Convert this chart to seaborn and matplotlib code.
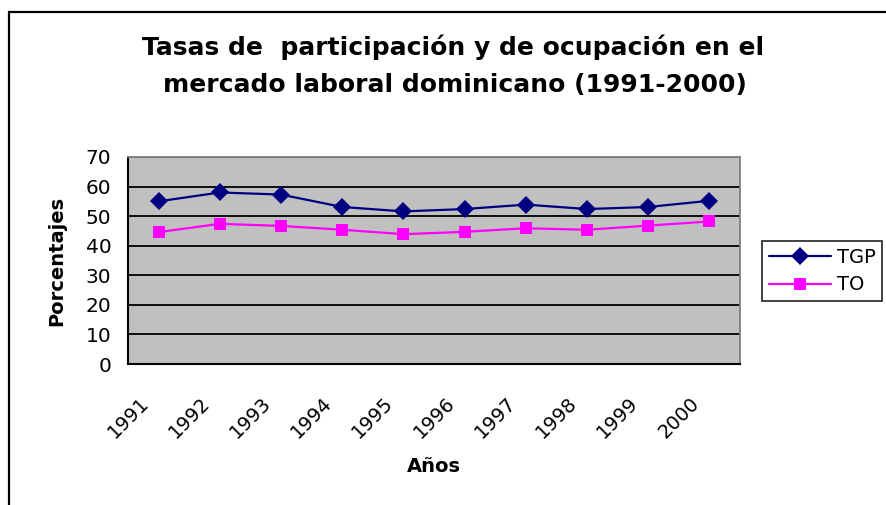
import numpy as np
import pandas as pd
import matplotlib
matplotlib.use('Agg')
import matplotlib.pyplot as plt
import matplotlib.patches as patches
import seaborn as sns

# Values
years = ['1991', '1992', '1993', '1994', '1995', '1996', '1997', '1998', '1999', '2000']
tgp = [55.0, 58.0, 57.3, 53.1, 51.6, 52.4, 53.9, 52.4, 53.1, 55.2]
to = [44.6, 47.4, 46.7, 45.4, 43.9, 44.7, 45.9, 45.4, 46.8, 48.2]

df = pd.DataFrame({
    'pos': list(range(len(years))) * 2,
    'valor': tgp + to,
    'serie': ['TGP'] * len(years) + ['TO'] * len(years),
})

sns.set_style('white')
plt.rcParams['font.family'] = ['DejaVu Sans']
plt.rcParams['text.color'] = 'black'
plt.rcParams['axes.labelcolor'] = 'black'
plt.rcParams['xtick.color'] = 'black'
plt.rcParams['ytick.color'] = 'black'

fig = plt.figure(figsize=(8.86, 5.05), dpi=100)
ax = fig.add_axes([128 / 886, 1 - 364 / 505, (740 - 128) / 886, (364 - 157) / 505])
ax.set_facecolor('#C0C0C0')

sns.lineplot(data=df, x='pos', y='valor', hue='serie', style='serie',
             palette={'TGP': '#000080', 'TO': '#FF00FF'},
             markers={'TGP': 'D', 'TO': 's'}, dashes=False,
             markersize=9, markeredgewidth=0, linewidth=1.6, ax=ax, legend=True)

ax.set_xlim(-0.5, 9.5)
ax.set_ylim(0, 70)
ax.set_yticks(range(0, 71, 10))
ax.yaxis.grid(True, color='black', linewidth=1.3)
ax.set_axisbelow(True)

ax.set_xticks(np.arange(-0.5, 10, 1))
ax.set_xticklabels(years + [''], rotation=45, ha='center', va='top')
ax.tick_params(axis='x', direction='out', length=4, width=1.3, pad=17, labelsize=14)
ax.tick_params(axis='y', direction='out', length=5, width=1.3, pad=7, labelsize=14.5)

for side in ['left', 'bottom']:
    ax.spines[side].set_color('black')
    ax.spines[side].set_linewidth(1.5)
for side in ['top', 'right']:
    ax.spines[side].set_color('#808080')
    ax.spines[side].set_linewidth(1.3)

ax.set_xlabel('Años', fontsize=14, fontweight='bold', labelpad=11)
ax.set_ylabel('Porcentajes', fontsize=14, fontweight='bold')
ax.yaxis.set_label_coords(-0.101, 0.5)

handles, labels = ax.get_legend_handles_labels()
ax.legend_.remove()
leg = fig.legend(handles, labels, loc='center left',
                 bbox_to_anchor=(762 / 886, 1 - 271 / 505), borderaxespad=0,
                 fontsize=14, frameon=True, fancybox=False, edgecolor='black',
                 handlelength=3.2, borderpad=0.35, labelspacing=0.45, handletextpad=0.3)
leg.get_frame().set_linewidth(1.3)

fig.text(453 / 886, 1 - 47 / 505, 'Tasas de  participación y de ocupación en el',
         ha='center', va='center', fontsize=18, fontweight='bold')
fig.text(455 / 886, 1 - 85 / 505, 'mercado laboral dominicano (1991-2000)',
         ha='center', va='center', fontsize=18, fontweight='bold')

# outer chart frame, cut off on the right and bottom like the reference
fig.add_artist(patches.Rectangle((9 / 886, -0.1), 1.2, 0.1 + (505 - 12) / 505,
                                 transform=fig.transFigure, fill=False,
                                 edgecolor='black', linewidth=1.6))

fig.savefig('out.png', dpi=100)
